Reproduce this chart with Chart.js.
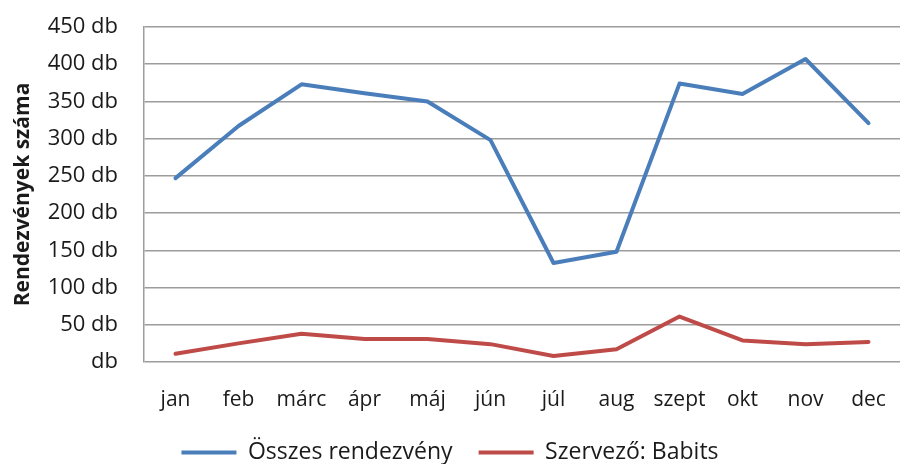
<!DOCTYPE html>
<html>
<head>
<meta charset="utf-8">
<script src="https://cdn.jsdelivr.net/npm/chart.js@4"></script>
<style>
    html, body { margin: 0; padding: 0; background: #fff; }
    #wrap { width: 900px; height: 464px; }
</style>
</head>
<body>
<div id="wrap"><canvas id="chart"></canvas></div>
<script>
    const MONTHS = ['jan', 'feb', 'márc', 'ápr', 'máj', 'jún', 'júl', 'aug', 'szept', 'okt', 'nov', 'dec'];
    const OSSZES = [247, 317, 373, 361, 350, 298, 133, 148, 374, 360, 407, 321];
    const BABITS = [11, 25, 38, 31, 31, 24, 8, 17, 61, 29, 24, 27];
    const Y_MAX = 450;
    const Y_STEP = 50;

    const FONT = "'Open Sans', sans-serif";
    const GRID = '#9c9c9c';
    const TEXT = '#1a1a1a';

    new Chart(document.getElementById('chart'), {
        type: 'line',
        data: {
            labels: MONTHS,
            datasets: [
                {
                    label: 'Összes rendezvény',
                    data: OSSZES,
                    borderColor: '#4a7ebb',
                    backgroundColor: '#4a7ebb',
                    borderWidth: 4,
                    pointRadius: 0,
                    pointStyle: 'line',
                    tension: 0,
                    borderCapStyle: 'round',
                    borderJoinStyle: 'round'
                },
                {
                    label: 'Szervező: Babits',
                    data: BABITS,
                    borderColor: '#be4b48',
                    backgroundColor: '#be4b48',
                    borderWidth: 4,
                    pointRadius: 0,
                    pointStyle: 'line',
                    tension: 0,
                    borderCapStyle: 'round',
                    borderJoinStyle: 'round'
                }
            ]
        },
        options: {
            responsive: true,
            maintainAspectRatio: false,
            animation: false,
            // legend padding is wide for the gap between items, so let it run off the bottom a bit
            layout: { padding: { top: 27, right: 0, bottom: -10, left: 0 } },
            plugins: {
                tooltip: { enabled: false },
                legend: {
                    position: 'bottom',
                    labels: {
                        usePointStyle: true,
                        pointStyleWidth: 55,
                        color: TEXT,
                        padding: 26,
                        font: { family: FONT, size: 23 }
                    }
                }
            },
            scales: {
                x: {
                    offset: true,
                    afterFit(scale) {
                        scale.height = 53;
                        scale.paddingLeft = 0;
                        scale.paddingRight = 0;
                    },
                    grid: { display: false, drawTicks: false },
                    border: { display: false },
                    ticks: {
                        color: TEXT,
                        padding: 25,
                        maxRotation: 0,
                        autoSkip: false,
                        font: { family: FONT, size: 21 }
                    }
                },
                y: {
                    min: 0,
                    max: Y_MAX,
                    afterFit(scale) {
                        scale.width = 144;
                        scale.paddingTop = 0;
                        scale.paddingBottom = 0;
                    },
                    grid: { color: GRID, lineWidth: 1.5, drawTicks: false },
                    border: { display: true, color: GRID, width: 1.5 },
                    ticks: {
                        stepSize: Y_STEP,
                        padding: 26,
                        color: TEXT,
                        font: { family: FONT, size: 22 },
                        callback: v => (v === 0 ? 'db' : v + ' db')
                    },
                    title: {
                        display: true,
                        text: 'Rendezvények száma',
                        color: TEXT,
                        padding: { top: 10, bottom: 0 },
                        font: { family: FONT, size: 21, weight: 'bold' }
                    }
                }
            }
        }
    });
</script>
</body>
</html>
